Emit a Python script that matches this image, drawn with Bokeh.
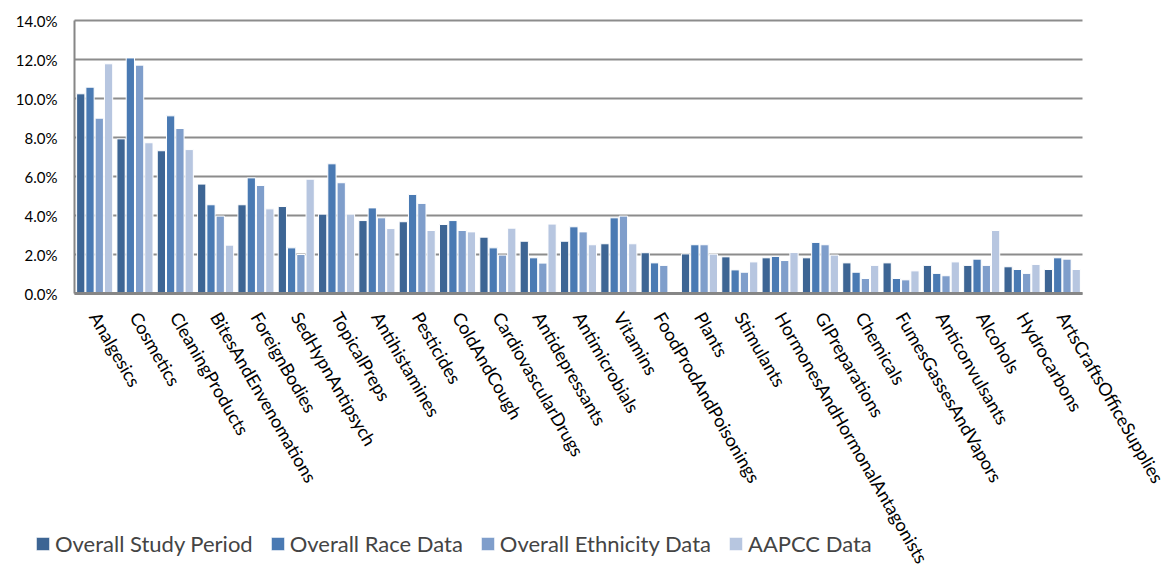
from bokeh.plotting import figure
from bokeh.models import ColumnDataSource, Legend, LegendItem, Range1d
from bokeh.core.properties import value
from bokeh.embed import file_html
from bokeh.resources import INLINE
import math

categories = [
    "Analgesics", "Cosmetics", "CleaningProducts", "BitesAndEnvenomations",
    "ForeignBodies", "SedHypnAntipsych", "TopicalPreps", "Antihistamines",
    "Pesticides", "ColdAndCough", "CardiovascularDrugs", "Antidepressants",
    "Antimicrobials", "Vitamins", "FoodProdAndPoisonings", "Plants",
    "Stimulants", "HormonesAndHormonalAntagonists", "GIPreparations",
    "Chemicals", "FumesGassesAndVapors", "Anticonvulsants", "Alcohols",
    "Hydrocarbons", "ArtsCraftsOfficeSupplies",
]

# percentages of exposures per substance category
overall_study_period = [10.24, 7.93, 7.32, 5.61, 4.55, 4.46, 4.07, 3.74, 3.68, 3.54,
                        2.89, 2.68, 2.68, 2.55, 2.09, 2.03, 1.88, 1.83, 1.83, 1.57,
                        1.57, 1.44, 1.44, 1.37, 1.23]
overall_race_data = [10.58, 12.08, 9.11, 4.55, 5.93, 2.34, 6.65, 4.39, 5.08, 3.74,
                     2.34, 1.83, 3.42, 3.88, 1.57, 2.50, 1.21, 1.90, 2.62, 1.09,
                     0.77, 1.03, 1.76, 1.23, 1.83]
overall_ethnicity_data = [8.99, 11.71, 8.46, 3.97, 5.54, 2.00, 5.68, 3.88, 4.62, 3.23,
                          1.97, 1.56, 3.16, 3.97, 1.44, 2.50, 1.09, 1.69, 2.50, 0.77,
                          0.70, 0.91, 1.44, 1.03, 1.76]
aapcc_data = [11.78, 7.73, 7.38, 2.48, 4.34, 5.86, 4.07, 3.33, 3.23, 3.16,
              3.35, 3.56, 2.50, 2.55, 0.0, 2.02, 1.62, 2.10, 1.97, 1.44,
              1.16, 1.62, 3.23, 1.49, 1.23]

series_names = ["Overall Study Period", "Overall Race Data",
                "Overall Ethnicity Data", "AAPCC Data"]
series_values = [overall_study_period, overall_race_data,
                 overall_ethnicity_data, aapcc_data]
colors = ["#3D6594", "#4A7AB3", "#7F9ECB", "#B7C6E0"]
offsets = [-0.345, -0.115, 0.115, 0.345]
y_ticks = [0, 2, 4, 6, 8, 10, 12, 14]

W, H = 1168, 571
FONT = "Lato"
n = len(categories)

# plot area in pixels: left 74, right 1082, top 20 (14%), bottom 293 (0%)
px_per_cat = (1082 - 74) / n
px_per_unit = (293 - 20) / 14.0
x_lo = -0.5 - 74 / px_per_cat
x_hi = n - 0.5 + (W - 1082) / px_per_cat
y_hi = 14 + 20 / px_per_unit
y_lo = -(H - 293) / px_per_unit

p = figure(
    width=W, height=H,
    x_range=Range1d(x_lo, x_hi), y_range=Range1d(y_lo, y_hi),
    x_axis_type=None, y_axis_type=None,
    output_backend="svg", toolbar_location=None,
    min_border=0,
)
p.outline_line_color = None
p.xgrid.visible = False
p.ygrid.visible = False

idx = list(range(n))
left_edge, right_edge = -0.5, n - 0.5

# horizontal gridlines
p.segment(x0=[left_edge] * len(y_ticks), x1=[right_edge] * len(y_ticks),
          y0=y_ticks, y1=y_ticks, line_color="#8C8C8C", line_width=2)

# bars
renderers = []
for name, vals, col, off in zip(series_names, series_values, colors, offsets):
    src = ColumnDataSource(dict(x=[i + off for i in idx], top=vals))
    r = p.vbar(x="x", top="top", width=0.205, source=src,
               fill_color=col, line_color="white", line_width=1)
    renderers.append(r)

# axis lines
p.segment(x0=[left_edge], x1=[left_edge], y0=[0], y1=[14],
          line_color="#868686", line_width=2)
p.segment(x0=[left_edge], x1=[right_edge], y0=[0], y1=[0],
          line_color="#868686", line_width=3)

# y tick labels
p.text(x=[left_edge] * len(y_ticks), y=y_ticks,
       text=[f"{t:.1f}%" for t in y_ticks],
       x_offset=-17, text_align="right", text_baseline="middle",
       text_font=value(FONT), text_font_size="15px", text_color="black")

# category labels, rotated
label_y = -20 / px_per_unit
p.text(x=idx, y=[label_y] * n, text=categories, angle=-math.pi / 3,
       text_align="left", text_baseline="middle",
       text_font=value(FONT), text_font_size="18px", text_color="black")

legend = Legend(
    items=[LegendItem(label=nm, renderers=[r]) for nm, r in zip(series_names, renderers)],
    orientation="horizontal",
    location=(34, 14),
    label_text_font=FONT,
    label_text_font_size="22px",
    glyph_width=17, glyph_height=17,
    spacing=16,
    label_standoff=4,
    padding=0,
    margin=0,
    border_line_color=None,
    background_fill_alpha=0,
)
p.add_layout(legend, "center")

open("out.html", "w").write(file_html(p, INLINE))
